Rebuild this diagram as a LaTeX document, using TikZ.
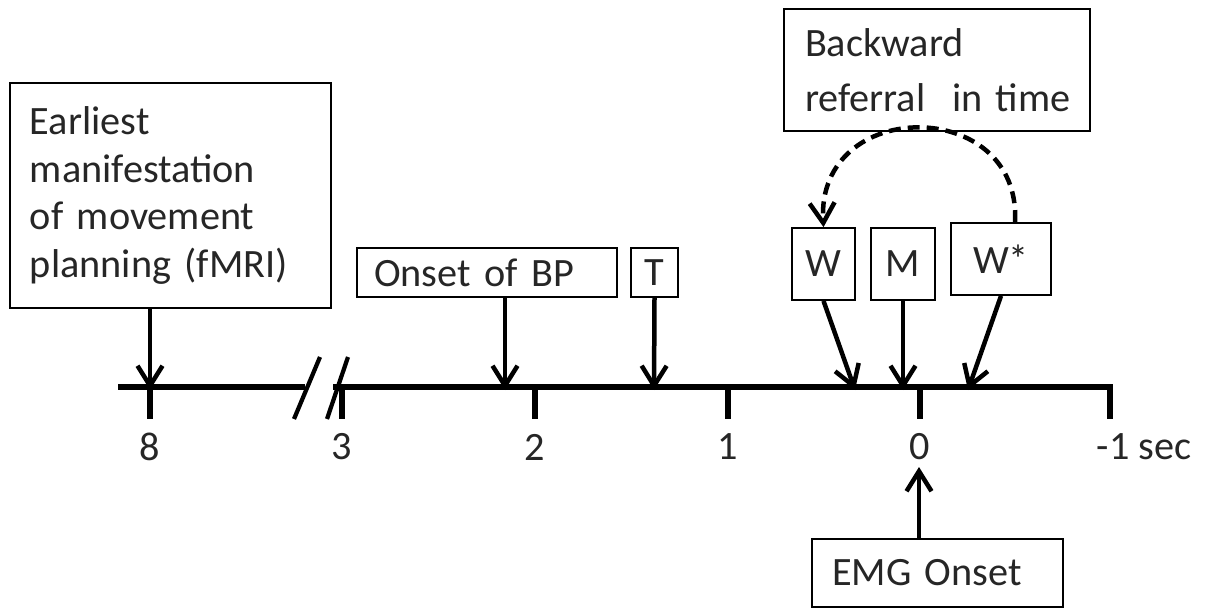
\documentclass[tikz,border=0pt]{standalone}
\usepackage{fontspec}
\setmainfont{Carlito}
\usetikzlibrary{arrows.meta}

\begin{document}
\begin{tikzpicture}[x=0.4pt, y=-0.4pt,
        box/.style={draw, line width=0.7pt, inner sep=0pt, text=black!85, font=\fontsize{16.1}{19}\selectfont},
        pointer/.style={line width=1.8pt, -{Straight Barb[length=8pt, width=10pt]}},
        axisline/.style={line width=2.4pt},
        ticklabel/.style={text=black!85, font=\fontsize{16.1}{19}\selectfont}]
        \useasboundingbox (0,0) rectangle (1205,612);

        % time axis with break
        \draw [axisline] (118,387) -- (305,387);
        \draw [axisline] (333,387) -- (1110,387) -- (1110,419);
        \draw [line width=1.7pt] (294,419) -- (320,357);
        \draw [line width=1.7pt] (327,419) -- (348,357);
        \foreach \x/\t in {150/8, 342/3, 535/2, 728/1, 920/0} {
            \draw [axisline] (\x,387) -- (\x,419);
            \node [ticklabel] (lab\t) at (\x,447) {\t};
        }
        \node [ticklabel, anchor=west] (labsec) at (1088,447) {-1 sec};

        % events
        \node [box, text width=112.4pt, inner xsep=8pt, minimum height=90pt, align=left] (fmri) at (170.5,195.5) {Earliest\\manifestation\\of movement\\planning (fMRI)};
        \node [box, text width=90.4pt, inner xsep=6.8pt, minimum height=19.6pt, align=left] (onset) at (487,272.5) {Onset of BP};
        \node [box, minimum width=18.8pt, minimum height=19.6pt] (tbox) at (654.5,272.5) {T};
        \node [box, minimum width=25.2pt, minimum height=28.8pt] (w) at (823.5,264) {W};
        \node [box, minimum width=25.6pt, minimum height=28.8pt] (m) at (903,264) {M};
        \node [box, minimum width=40pt, minimum height=28.8pt] (wstar) at (1001,259) {W*};
        \node [box, text width=105.6pt, inner xsep=8.4pt, minimum height=48.8pt, align=left, font=\fontsize{16.1}{22}\selectfont] (backward) at (937,70) {Backward\\\mbox{referral~ in time}};
        \node [box, text width=84.4pt, inner xsep=8pt, minimum height=27.2pt, align=left] (emg) at (937.5,573) {EMG Onset};

        \coordinate (p8) at (150,390);
        \coordinate (pbp) at (505,390);
        \coordinate (pt) at (654,390);
        \coordinate (pw) at (855,390);
        \coordinate (pm) at (903,390);
        \coordinate (pws) at (968,390);
        \coordinate (pzero) at (919,467);

        \draw [pointer] (fmri.south -| p8) -- (p8);
        \draw [pointer] (onset.south -| pbp) -- (pbp);
        \draw [pointer] (tbox.south) -- (pt);
        \draw [pointer] (w.south) -- (pw);
        \draw [pointer] (m.south) -- (pm);
        \draw [pointer] (wstar.south) -- (pws);
        \draw [pointer] (emg.north -| pzero) -- (pzero);
        \draw [pointer, dash pattern=on 4.8pt off 2.8pt] ([xshift=5.6pt]wstar.north) .. controls (1022,96) and (816,96) .. (w.north);
    \end{tikzpicture}
\end{document}
